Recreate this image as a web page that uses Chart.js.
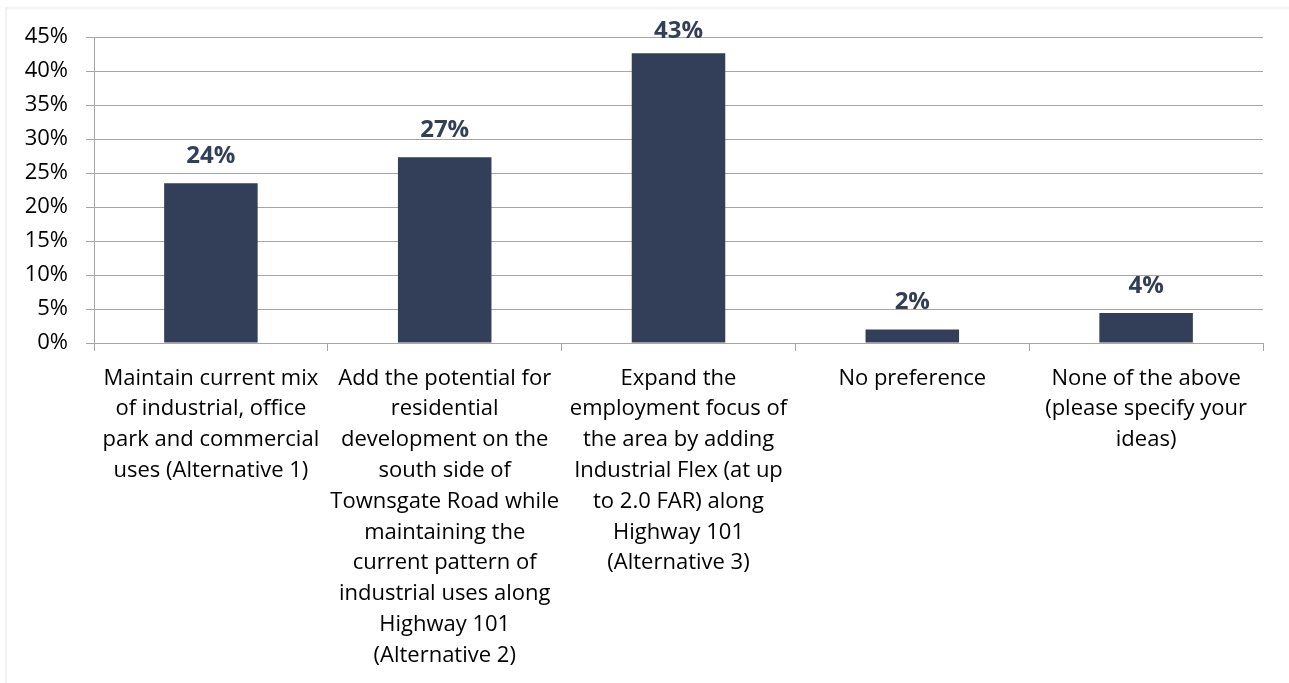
<!DOCTYPE html>
<html>
<head>
<meta charset="utf-8">
<script src="https://cdn.jsdelivr.net/npm/chart.js@4/dist/chart.umd.min.js"></script>
<style>
  html, body { margin: 0; padding: 0; background: #fff; }
  #wrap { position: relative; width: 1289px; height: 683px; }
  #frame { position: absolute; left: 5px; top: 7px; right: 0; bottom: 0; border-left: 2px solid #f2f2f2; border-top: 2px solid #f2f2f2; pointer-events: none; }
  canvas { position: absolute; left: 0; top: 0; }
</style>
</head>
<body>
<div id="wrap">
  <div id="frame"></div>
  <canvas id="c" width="1289" height="683"></canvas>
</div>
<script>
const categories = [
  ["Maintain current mix", "of industrial, office", "park and commercial", "uses (Alternative 1)"],
  ["Add the potential for", "residential", "development on the", "south side of", "Townsgate Road while", "maintaining the", "current pattern of", "industrial uses along", "Highway 101", "(Alternative 2)"],
  ["Expand the", "employment focus of", "the area by adding", "Industrial Flex (at up", "to 2.0 FAR) along", "Highway 101", "(Alternative 3)"],
  ["No preference"],
  ["None of the above", "(please specify your", "ideas)"]
];
const values = [23.5, 27.3, 42.6, 2.0, 4.4];
const valueLabels = ["24%", "27%", "43%", "2%", "4%"];
const yTicks = [0, 5, 10, 15, 20, 25, 30, 35, 40, 45];

const BAR = '#333F59';
const GRID = '#A6A6A6';

const labelPlugin = {
  id: 'valueLabels',
  afterDatasetsDraw(chart) {
    const ctx = chart.ctx;
    const meta = chart.getDatasetMeta(0);
    ctx.save();
    ctx.fillStyle = BAR;
    ctx.font = 'bold 24px "Open Sans"';
    ctx.textAlign = 'center';
    ctx.textBaseline = 'alphabetic';
    meta.data.forEach((bar, i) => {
      const y = Math.max(bar.y - 20, 38);
      ctx.fillText(valueLabels[i], bar.x, y);
    });
    ctx.restore();
  }
};

new Chart(document.getElementById('c'), {
  type: 'bar',
  data: {
    labels: categories,
    datasets: [{
      data: values,
      backgroundColor: BAR,
      borderWidth: 0,
      barPercentage: 0.4,
      categoryPercentage: 1.0
    }]
  },
  options: {
    responsive: false,
    animation: false,
    events: [],
    layout: { padding: { top: 37, right: 26, left: 0, bottom: 0 } },
    plugins: { legend: { display: false }, tooltip: { enabled: false } },
    scales: {
      x: {
        afterFit(scale) { scale.height = 340; },
        grid: { display: true, drawOnChartArea: false, drawTicks: true, tickLength: 8, color: GRID, offset: true },
        border: { display: true, color: GRID, width: 1 },
        ticks: {
          color: '#000',
          font: { family: '"Open Sans"', size: 22, lineHeight: 1.4 },
          padding: 12,
          maxRotation: 0,
          autoSkip: false
        }
      },
      y: {
        min: 0,
        max: 45,
        afterFit(scale) { scale.width = 94; },
        afterBuildTicks(scale) { scale.ticks = yTicks.map(v => ({ value: v })); },
        grid: { color: GRID, lineWidth: 1, drawTicks: true, tickLength: 8 },
        border: { display: true, color: GRID, width: 1 },
        ticks: {
          color: '#000',
          font: { family: '"Open Sans"', size: 22 },
          padding: 18,
          callback: v => v + '%'
        }
      }
    }
  },
  plugins: [labelPlugin]
});
</script>
</body>
</html>
